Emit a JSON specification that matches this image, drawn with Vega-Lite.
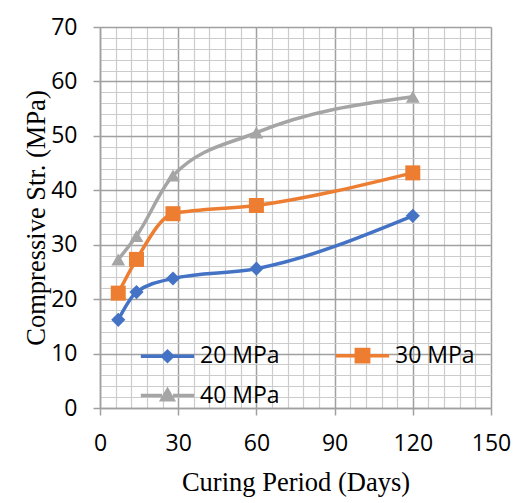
{
  "$schema": "https://vega.github.io/schema/vega-lite/v6.json",
  "width": 391,
  "height": 381,
  "autosize": {"type": "none"},
  "padding": {"left": 100, "top": 27, "right": 33, "bottom": 95},
  "background": "white",
  "config": {"view": {"stroke": null}, "font": "Open Sans"},
  "data": {
    "values": [
      {"day": 7, "strength": 16.2, "mix": "20 MPa"},
      {"day": 14, "strength": 21.3, "mix": "20 MPa"},
      {"day": 28, "strength": 23.8, "mix": "20 MPa"},
      {"day": 60, "strength": 25.6, "mix": "20 MPa"},
      {"day": 120, "strength": 35.3, "mix": "20 MPa"},
      {"day": 7, "strength": 21.1, "mix": "30 MPa"},
      {"day": 14, "strength": 27.3, "mix": "30 MPa"},
      {"day": 28, "strength": 35.7, "mix": "30 MPa"},
      {"day": 60, "strength": 37.2, "mix": "30 MPa"},
      {"day": 120, "strength": 43.2, "mix": "30 MPa"},
      {"day": 7, "strength": 27.3, "mix": "40 MPa"},
      {"day": 14, "strength": 31.6, "mix": "40 MPa"},
      {"day": 28, "strength": 42.7, "mix": "40 MPa"},
      {"day": 60, "strength": 50.6, "mix": "40 MPa"},
      {"day": 120, "strength": 57.2, "mix": "40 MPa"}
    ]
  },
  "encoding": {
    "x": {
      "field": "day",
      "type": "quantitative",
      "scale": {"domain": [0, 150], "nice": false, "zero": false},
      "axis": {
        "title": "Curing Period (Days)",
        "titleFont": "Liberation Serif",
        "titleFontSize": 26.5,
        "titleFontWeight": "normal",
        "titleColor": "black",
        "titlePadding": 14,
        "values": [0, 6, 12, 18, 24, 30, 36, 42, 48, 54, 60, 66, 72, 78, 84, 90, 96, 102, 108, 114, 120, 126, 132, 138, 144, 150],
        "labelExpr": "datum.value % 30 === 0 ? datum.label : ''",
        "labelOverlap": false,
        "labelBound": false,
        "labelFlush": false,
        "labelFont": "Open Sans",
        "labelFontSize": 23,
        "labelColor": "black",
        "labelPadding": 17,
        "tickSize": 7,
        "tickColor": "#a0a0a0",
        "tickWidth": 1.5,
        "tickOpacity": {"condition": {"test": "datum.value % 30 === 0", "value": 1}, "value": 0},
        "domainColor": "#a0a0a0",
        "domainWidth": 1.5,
        "grid": true,
        "gridColor": {"condition": {"test": "datum.value % 30 === 0", "value": "#a0a0a0"}, "value": "#cccccc"},
        "gridWidth": {"condition": {"test": "datum.value % 30 === 0", "value": 1.5}, "value": 1.2},
        "gridOpacity": 1
      }
    },
    "y": {
      "field": "strength",
      "type": "quantitative",
      "scale": {"domain": [0, 70], "nice": false, "zero": true},
      "axis": {
        "title": "Compressive Str. (MPa)",
        "titleFont": "Liberation Serif",
        "titleFontSize": 26.5,
        "titleFontWeight": "normal",
        "titleColor": "black",
        "titlePadding": 0,
        "values": [0, 2, 4, 6, 8, 10, 12, 14, 16, 18, 20, 22, 24, 26, 28, 30, 32, 34, 36, 38, 40, 42, 44, 46, 48, 50, 52, 54, 56, 58, 60, 62, 64, 66, 68, 70],
        "labelExpr": "datum.value % 10 === 0 ? datum.label : ''",
        "labelOverlap": false,
        "labelBound": false,
        "labelFlush": false,
        "labelFont": "Open Sans",
        "labelFontSize": 23,
        "labelColor": "black",
        "labelPadding": 16,
        "tickSize": 7,
        "tickColor": "#a0a0a0",
        "tickWidth": 1.5,
        "tickOpacity": {"condition": {"test": "datum.value % 10 === 0", "value": 1}, "value": 0},
        "domainColor": "#a0a0a0",
        "domainWidth": 1.5,
        "grid": true,
        "gridColor": {"condition": {"test": "datum.value % 10 === 0", "value": "#a0a0a0"}, "value": "#cccccc"},
        "gridWidth": {"condition": {"test": "datum.value % 10 === 0", "value": 1.5}, "value": 1.2},
        "gridOpacity": 1
      }
    },
    "color": {
      "field": "mix",
      "type": "nominal",
      "scale": {"domain": ["20 MPa", "30 MPa", "40 MPa"], "range": ["#4472C4", "#ED7D31", "#A5A5A5"]},
      "legend": {
        "orient": "none",
        "legendX": 56,
        "legendY": 317,
        "columns": 2,
        "direction": "horizontal",
        "title": null,
        "labelFont": "Open Sans",
        "labelFontSize": 23,
        "labelColor": "black",
        "symbolSize": 169,
        "labelOffset": 21,
        "columnPadding": 48,
        "rowPadding": 13,
        "symbolStrokeWidth": 3.5,
        "symbolOpacity": 1,
        "encode": {
          "symbols": {
            "update": {
              "shape": {"signal": "datum.value === '20 MPa' ? 'M-4.1,0H-0.75 M-0.75,0L0,-0.75L0.75,0L0,0.75Z M0.75,0H4.1' : datum.value === '30 MPa' ? 'M-4.1,0H-0.95 M-0.95,-0.95H0.95V0.95H-0.95Z M0.95,0H4.1' : 'M-4.1,0H-0.85 M-0.85,0.65L0,-0.85L0.85,0.65Z M0.85,0H4.1'"},
              "fill": {"scale": "color", "field": "value"},
              "stroke": {"scale": "color", "field": "value"},
              "strokeWidth": {"value": 3.5},
              "opacity": {"value": 1}
            }
          }
        }
      }
    }
  },
  "layer": [
    {"mark": {"type": "line", "interpolate": "monotone", "strokeWidth": 3.5}},
    {
      "transform": [{"filter": "datum.mix === '20 MPa'"}],
      "mark": {"type": "point", "filled": true, "opacity": 1, "shape": "diamond", "size": 200}
    },
    {
      "transform": [{"filter": "datum.mix === '30 MPa'"}],
      "mark": {"type": "point", "filled": true, "opacity": 1, "shape": "square", "size": 225}
    },
    {
      "transform": [{"filter": "datum.mix === '40 MPa'"}],
      "mark": {"type": "point", "filled": true, "opacity": 1, "shape": "triangle-up", "size": 190}
    }
  ]
}
